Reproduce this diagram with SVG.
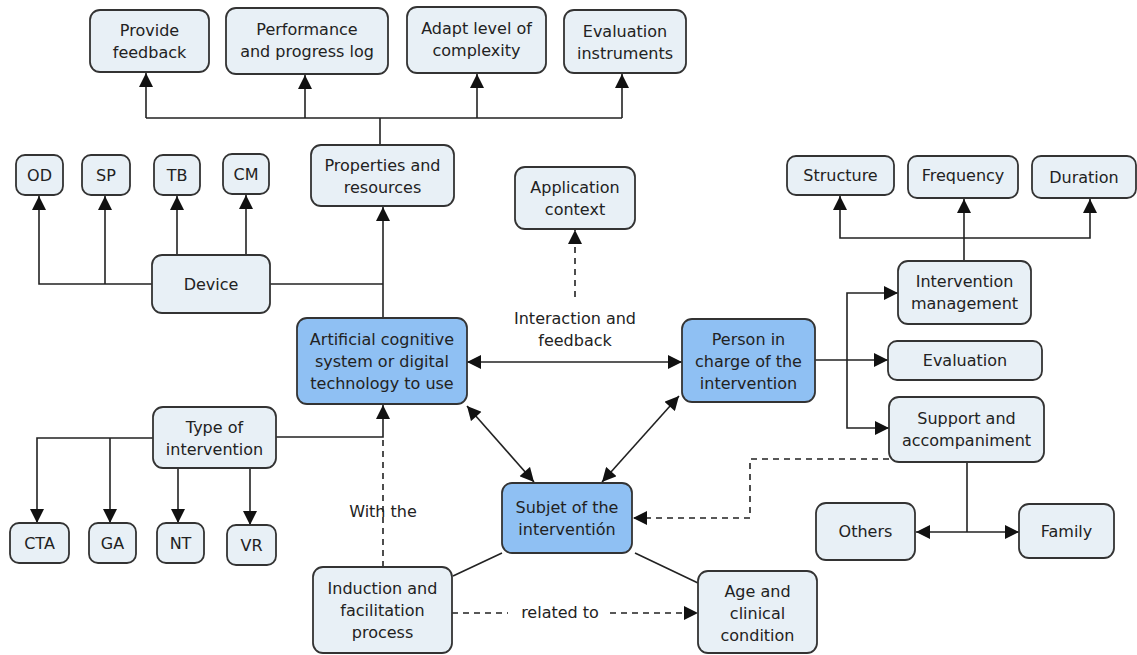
<svg xmlns="http://www.w3.org/2000/svg" width="1137" height="655" viewBox="0 0 1137 655">
<style>
.n rect{fill:#e8f0f6;stroke:#333;stroke-width:1.8}
.b rect{fill:#8fc0f3;stroke:#333;stroke-width:1.8}
text{font-family:"DejaVu Sans",Verdana,sans-serif;font-size:16px;fill:#222;text-anchor:middle}
.c path{fill:none;stroke:#222;stroke-width:1.6}
.c .d{stroke-dasharray:6,5}
</style>
<defs>
<marker id="a" viewBox="0 0 10 10" refX="10" refY="5" markerWidth="15" markerHeight="14" markerUnits="userSpaceOnUse" orient="auto-start-reverse"><path d="M0,0 L10,5 L0,10 z" fill="#111"/></marker>
</defs>
<rect width="1137" height="655" fill="#fff"/>
<g class="c">
<path d="M146,118 H622 M380,145 V118"/>
<path d="M146,118 V73" marker-end="url(#a)"/>
<path d="M305,118 V75" marker-end="url(#a)"/>
<path d="M477,118 V74" marker-end="url(#a)"/>
<path d="M622,118 V74" marker-end="url(#a)"/>
<path d="M383,318 V207" marker-end="url(#a)"/>
<path d="M270,284 H383"/>
<path d="M152,284 H39 V196" marker-end="url(#a)"/>
<path d="M105,284 V196" marker-end="url(#a)"/>
<path d="M177,255 V196" marker-end="url(#a)"/>
<path d="M246,255 V195" marker-end="url(#a)"/>
<path class="d" d="M575,297 V230" marker-end="url(#a)"/>
<path d="M467,362 H682" marker-start="url(#a)" marker-end="url(#a)"/>
<path d="M467,406 L534,482" marker-start="url(#a)" marker-end="url(#a)"/>
<path d="M679,396 L602,482" marker-start="url(#a)" marker-end="url(#a)"/>
<path d="M276,437 H383 V405" marker-end="url(#a)"/>
<path class="d" d="M383,567 V437"/>
<path d="M153,438 H37 V523" marker-end="url(#a)"/>
<path d="M110,438 V523" marker-end="url(#a)"/>
<path d="M178,468 V523" marker-end="url(#a)"/>
<path d="M250,468 V525" marker-end="url(#a)"/>
<path d="M502,553 L453,576 M635,553 L698,583"/>
<path class="d" d="M452,613 H508"/>
<path class="d" d="M610,613 H698" marker-end="url(#a)"/>
<path d="M815,360 H888" marker-end="url(#a)"/>
<path d="M898,293 H847 V428 H889" marker-start="url(#a)" marker-end="url(#a)"/>
<path d="M964,261 V199" stroke-width="2.4" marker-end="url(#a)"/>
<path d="M840,196 V238 H1090 V199" marker-start="url(#a)" marker-end="url(#a)"/>
<path class="d" d="M889,459 H750 V518 H633" marker-end="url(#a)"/>
<path d="M967,462 V532"/>
<path d="M916,532 H1019" marker-start="url(#a)" marker-end="url(#a)"/>
</g>
<g id="lbl-interaction"><text x="575" y="324">Interaction and</text><text x="575" y="346">feedback</text></g>
<g id="lbl-with"><text x="383" y="517">With the</text></g>
<g id="lbl-related"><text x="560" y="618">related to</text></g>
<g id="provide" class="n"><rect x="90" y="10" width="119" height="62" rx="10"/><text x="149.5" y="36">Provide</text><text x="149.5" y="58">feedback</text></g>
<g id="performance" class="n"><rect x="226" y="8" width="162" height="66" rx="10"/><text x="307" y="35">Performance</text><text x="307" y="57">and progress log</text></g>
<g id="adapt" class="n"><rect x="407" y="7" width="139" height="66" rx="10"/><text x="476.5" y="34">Adapt level of</text><text x="476.5" y="56">complexity</text></g>
<g id="evalinst" class="n"><rect x="564" y="10" width="122" height="63" rx="10"/><text x="625" y="37">Evaluation</text><text x="625" y="59">instruments</text></g>
<g id="properties" class="n"><rect x="311" y="145" width="143" height="61" rx="10"/><text x="382.5" y="171">Properties and</text><text x="382.5" y="193">resources</text></g>
<g id="od" class="n"><rect x="16" y="155" width="47" height="40" rx="9"/><text x="39.5" y="181">OD</text></g>
<g id="sp" class="n"><rect x="82" y="155" width="48" height="40" rx="9"/><text x="106" y="181">SP</text></g>
<g id="tb" class="n"><rect x="154" y="155" width="46" height="40" rx="9"/><text x="177" y="181">TB</text></g>
<g id="cm" class="n"><rect x="223" y="154" width="46" height="40" rx="9"/><text x="246" y="180">CM</text></g>
<g id="device" class="n"><rect x="152" y="255" width="118" height="58" rx="10"/><text x="211" y="290">Device</text></g>
<g id="appctx" class="n"><rect x="515" y="167" width="120" height="62" rx="10"/><text x="575" y="193">Application</text><text x="575" y="215">context</text></g>
<g id="acs" class="b"><rect x="297" y="318" width="170" height="86" rx="10"/><text x="382" y="345">Artificial cognitive</text><text x="382" y="367">system or digital</text><text x="382" y="389">technology to use</text></g>
<g id="person" class="b"><rect x="682" y="319" width="133" height="83" rx="10"/><text x="748.5" y="345">Person in</text><text x="748.5" y="367">charge of the</text><text x="748.5" y="389">intervention</text></g>
<g id="structure" class="n"><rect x="787" y="156" width="107" height="39" rx="9"/><text x="840.5" y="181">Structure</text></g>
<g id="frequency" class="n"><rect x="908" y="156" width="110" height="42" rx="9"/><text x="963" y="181">Frequency</text></g>
<g id="duration" class="n"><rect x="1032" y="156" width="104" height="42" rx="9"/><text x="1084" y="183">Duration</text></g>
<g id="intmgmt" class="n"><rect x="898" y="261" width="133" height="63" rx="10"/><text x="964.5" y="287">Intervention</text><text x="964.5" y="309">management</text></g>
<g id="evaluation" class="n"><rect x="888" y="341" width="154" height="39" rx="9"/><text x="965" y="366">Evaluation</text></g>
<g id="support" class="n"><rect x="889" y="397" width="155" height="65" rx="10"/><text x="966.5" y="424">Support and</text><text x="966.5" y="446">accompaniment</text></g>
<g id="type" class="n"><rect x="153" y="407" width="123" height="61" rx="10"/><text x="214.5" y="433">Type of</text><text x="214.5" y="455">intervention</text></g>
<g id="cta" class="n"><rect x="10" y="523" width="59" height="40" rx="9"/><text x="39.5" y="549">CTA</text></g>
<g id="ga" class="n"><rect x="89" y="523" width="47" height="40" rx="9"/><text x="112.5" y="549">GA</text></g>
<g id="nt" class="n"><rect x="157" y="523" width="47" height="40" rx="9"/><text x="180.5" y="549">NT</text></g>
<g id="vr" class="n"><rect x="227" y="525" width="49" height="40" rx="9"/><text x="251.5" y="551">VR</text></g>
<g id="subjet" class="b"><rect x="502" y="483" width="130" height="70" rx="10"/><text x="567" y="513">Subjet of the</text><text x="567" y="535">interventión</text></g>
<g id="induction" class="n"><rect x="313" y="567" width="139" height="86" rx="10"/><text x="382.5" y="594">Induction and</text><text x="382.5" y="616">facilitation</text><text x="382.5" y="638">process</text></g>
<g id="age" class="n"><rect x="698" y="571" width="119" height="82" rx="10"/><text x="757.5" y="597">Age and</text><text x="757.5" y="619">clinical</text><text x="757.5" y="641">condition</text></g>
<g id="others" class="n"><rect x="816" y="503" width="99" height="57" rx="10"/><text x="865.5" y="537">Others</text></g>
<g id="family" class="n"><rect x="1019" y="504" width="95" height="54" rx="10"/><text x="1066.5" y="537">Family</text></g>
</svg>
